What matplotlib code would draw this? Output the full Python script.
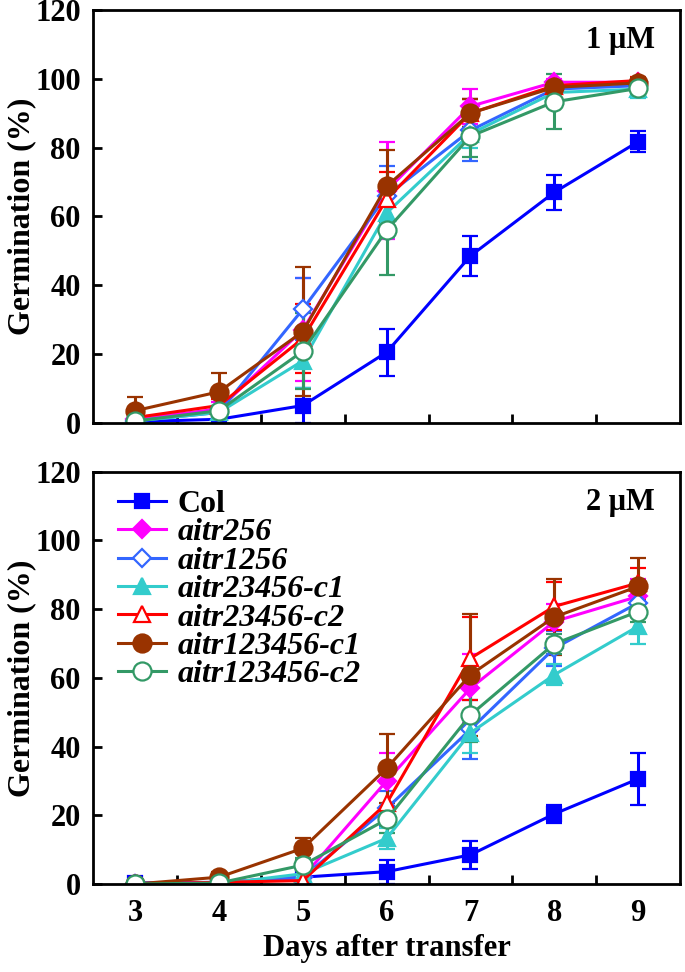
import matplotlib
matplotlib.use('Agg')
import matplotlib.pyplot as plt
import numpy as np

plt.rcParams['font.family'] = ['Liberation Serif', 'DejaVu Serif']
plt.rcParams['font.weight'] = 'bold'

days = [3, 4, 5, 6, 7, 8, 9]
lines = ['Col', 'aitr256', 'aitr1256', 'aitr23456-c1', 'aitr23456-c2', 'aitr123456-c1', 'aitr123456-c2']

# 1 uM, mean germination (%) and error
mean_1 = {
    'Col':           [0.3, 1.0, 5.0, 20.5, 48.5, 67.0, 81.7],
    'aitr256':       [1.0, 4.0, 27.0, 67.5, 92.0, 99.0, 99.0],
    'aitr1256':      [0.5, 3.0, 33.0, 66.0, 85.0, 97.0, 98.0],
    'aitr23456-c1':  [0.5, 3.0, 18.0, 61.0, 84.0, 96.0, 97.0],
    'aitr23456-c2':  [1.5, 5.0, 24.5, 65.0, 90.0, 98.0, 99.5],
    'aitr123456-c1': [3.5, 9.0, 26.5, 68.8, 90.0, 97.5, 98.8],
    'aitr123456-c2': [0.5, 3.5, 20.8, 56.0, 83.3, 93.3, 97.2],
}
err_1 = {
    'Col':           [0.5, 1.0, 5.0, 6.8, 5.8, 5.1, 3.1],
    'aitr256':       [1.0, 2.0, 15.0, 14.0, 5.0, 1.0, 1.0],
    'aitr1256':      [0.5, 2.0, 9.0, 8.5, 9.0, 1.5, 1.5],
    'aitr23456-c1':  [0.5, 2.0, 8.0, 7.0, 4.0, 1.5, 2.5],
    'aitr23456-c2':  [1.0, 2.0, 10.0, 8.0, 4.0, 1.0, 1.0],
    'aitr123456-c1': [4.0, 5.6, 18.7, 10.5, 4.0, 1.5, 1.5],
    'aitr123456-c2': [0.5, 1.5, 11.0, 13.0, 6.0, 8.0, 2.0],
}

# 2 uM
mean_2 = {
    'Col':           [0.3, 0.5, 2.0, 3.6, 8.5, 20.4, 30.6],
    'aitr256':       [0.0, 0.5, 2.0, 30.0, 57.0, 76.4, 83.7],
    'aitr1256':      [0.0, 0.0, 2.0, 22.0, 45.0, 68.6, 81.8],
    'aitr23456-c1':  [0.0, 0.0, 3.0, 13.3, 44.0, 60.9, 75.0],
    'aitr23456-c2':  [0.0, 0.5, 1.0, 23.5, 65.7, 80.8, 87.6],
    'aitr123456-c1': [0.0, 2.0, 10.4, 33.7, 60.9, 77.7, 86.6],
    'aitr123456-c2': [0.0, 0.3, 5.5, 18.8, 49.2, 69.9, 79.3],
}
err_2 = {
    'Col':           [0.3, 0.5, 1.0, 3.5, 4.0, 2.5, 7.6],
    'aitr256':       [0.0, 0.5, 1.0, 8.0, 10.0, 5.0, 5.0],
    'aitr1256':      [0.0, 0.0, 1.0, 5.0, 8.5, 5.0, 4.0],
    'aitr23456-c1':  [0.0, 0.0, 1.5, 3.0, 6.0, 3.0, 5.0],
    'aitr23456-c2':  [0.0, 0.5, 1.0, 6.0, 12.0, 7.0, 4.5],
    'aitr123456-c1': [0.0, 1.5, 3.0, 10.0, 17.7, 11.0, 8.3],
    'aitr123456-c2': [0.0, 0.3, 2.0, 4.0, 8.0, 3.0, 3.0],
}

style = {
    'Col':           dict(color='#0000FF', marker='s', mfc='#0000FF', ms=10.5),
    'aitr256':       dict(color='#FF00FF', marker='D', mfc='#FF00FF', ms=9),
    'aitr1256':      dict(color='#3366FF', marker='D', mfc='white', ms=9),
    'aitr23456-c1':  dict(color='#33CCCC', marker='^', mfc='#33CCCC', ms=12),
    'aitr23456-c2':  dict(color='#FF0000', marker='^', mfc='white', ms=12),
    'aitr123456-c1': dict(color='#993300', marker='o', mfc='#993300', ms=13),
    'aitr123456-c2': dict(color='#339966', marker='o', mfc='white', ms=13),
}

fig = plt.figure(figsize=(6.85, 9.72), dpi=100)
ax1 = fig.add_axes([0.1362, 0.5651, 0.8565, 0.4246])
ax2 = fig.add_axes([0.1362, 0.0905, 0.8565, 0.4242])


def draw(ax, means, errs, conc):
    for name in lines:
        s = style[name]
        ax.errorbar(days, means[name], yerr=errs[name], color=s['color'], lw=2.2,
                    marker=s['marker'], ms=s['ms'], mfc=s['mfc'], mec=s['color'], mew=1.6,
                    elinewidth=2.2, capsize=5.5, capthick=2.2, label=name)
    ax.set_xlim(2.5, 9.5)
    ax.set_ylim(0, 120)
    ax.set_yticks(np.arange(0, 121, 20))
    ax.set_xticks(days)
    ax.set_xticks(np.arange(3.5, 9.0, 1.0), minor=True)
    ax.tick_params(axis='x', which='major', length=0, labelsize=22, pad=11)
    ax.tick_params(axis='x', which='minor', direction='in', length=6.5, width=2)
    ax.tick_params(axis='y', direction='in', length=6.5, width=2, labelsize=22, pad=9)
    for sp in ax.spines.values():
        sp.set_linewidth(2)
    ax.set_ylabel('Germination (%)', fontsize=23, fontweight='bold')
    ax.yaxis.set_label_coords(-0.097, 0.5)
    ax.text(0.957, 0.925, conc, transform=ax.transAxes, ha='right', va='center',
            fontsize=22, fontweight='bold')


draw(ax1, mean_1, err_1, '1 \u03bcM')
draw(ax2, mean_2, err_2, '2 \u03bcM')
ax1.tick_params(axis='x', which='major', labelbottom=False)

ax2.set_xlabel('Days after transfer', fontsize=22, fontweight='bold', labelpad=4)

handles, labels = ax2.get_legend_handles_labels()
handles = [h[0] for h in handles]
leg = ax2.legend(handles, labels, loc='upper left', bbox_to_anchor=(0.01, 1.003), frameon=False,
                 fontsize=23, handlelength=1.5, handletextpad=0.35, labelspacing=-0.03,
                 borderaxespad=0.2)
for t in leg.get_texts():
    if t.get_text() != 'Col':
        t.set_style('italic')

fig.savefig('out.png', dpi=100)
